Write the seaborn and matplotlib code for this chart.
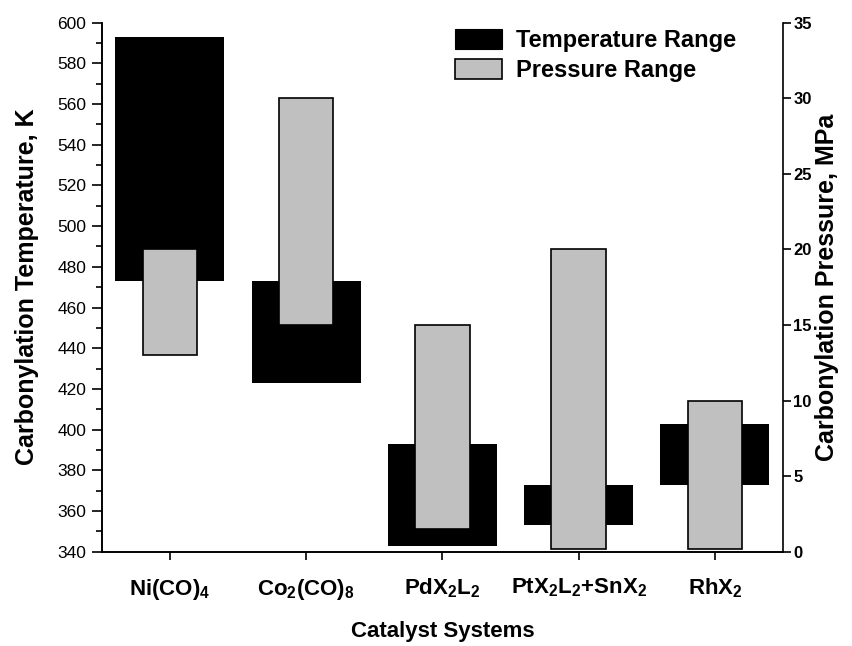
import matplotlib
matplotlib.use("Agg")
import matplotlib.pyplot as plt
from matplotlib.patches import Patch
from matplotlib.ticker import MultipleLocator
import numpy as np
import pandas as pd
import seaborn as sns

# Catalyst systems and their operating windows
catalysts = ["Ni(CO)$_4$", "Co$_2$(CO)$_8$", "PdX$_2$L$_2$",
             "PtX$_2$L$_2$+SnX$_2$", "RhX$_2$"]
temp_low = [473, 423, 343, 353, 373]      # K
temp_high = [593, 473, 393, 373, 403]     # K
pres_low = [13, 15, 1.5, 0.15, 0.15]      # MPa
pres_high = [20, 30, 15, 20, 10]          # MPa

sns.set_theme(style="ticks")
plt.rcParams["font.family"] = ["Liberation Sans", "DejaVu Sans"]
plt.rcParams["mathtext.fontset"] = "custom"
plt.rcParams["mathtext.rm"] = "Liberation Sans:bold"
plt.rcParams["mathtext.bf"] = "Liberation Sans:bold"
plt.rcParams["mathtext.default"] = "bf"
for key in ("text.color", "axes.labelcolor", "xtick.color", "ytick.color",
            "axes.edgecolor"):
    plt.rcParams[key] = "black"

df = pd.DataFrame({
    "catalyst": catalysts,
    "t_low": temp_low,
    "t_span": np.subtract(temp_high, temp_low),
    "p_low": pres_low,
    "p_span": np.subtract(pres_high, pres_low),
})

fig = plt.figure(figsize=(8.52, 6.46), dpi=100)
ax = fig.add_axes([0.1194, 0.146, 0.7996, 0.8189])

# Temperature windows (left axis)
sns.barplot(data=df, x="catalyst", y="t_span", bottom=df["t_low"].values,
            color="black", saturation=1, width=0.8, errorbar=None,
            linewidth=0, ax=ax)

# Pressure windows (right axis)
ax2 = ax.twinx()
sns.barplot(data=df, x="catalyst", y="p_span", bottom=df["p_low"].values,
            color="#C0C0C0", saturation=1, width=0.4, errorbar=None,
            edgecolor="black", linewidth=1.2, ax=ax2)

ax.set_xlim(-0.5, 4.5)
ax.set_ylim(340, 600)
ax.set_yticks(np.arange(340, 601, 20))
ax.yaxis.set_minor_locator(MultipleLocator(10))
ax2.set_ylim(0, 35)
ax2.set_yticks(np.arange(0, 36, 5))

for a in (ax, ax2):
    a.spines["top"].set_visible(False)
    for s in a.spines.values():
        s.set_linewidth(1.2)
        s.set_color("black")
ax.spines["right"].set_visible(False)

ax.tick_params(axis="y", which="major", direction="out", length=7, width=1.2,
               labelsize=12.5, pad=4, colors="black")
ax.tick_params(axis="y", which="minor", direction="out", length=4, width=1.2,
               colors="black")
ax.tick_params(axis="x", direction="out", length=6, width=1.2,
               labelsize=16, pad=12, colors="black")
ax2.tick_params(axis="y", direction="out", length=6, width=1.2,
                labelsize=12, pad=1.5, colors="black")
for lbl in ax.get_xticklabels() + ax2.get_yticklabels():
    lbl.set_fontweight("bold")

ax.set_xlabel("Catalyst Systems", fontsize=16, fontweight="bold", labelpad=14)
ax.set_ylabel("Carbonylation Temperature, K", fontsize=18, fontweight="bold",
              labelpad=13)
ax2.set_ylabel("Carbonylation Pressure, MPa", fontsize=18, fontweight="bold",
               labelpad=2)

handles = [
    Patch(facecolor="black", edgecolor="black", linewidth=0.8,
          label="Temperature Range"),
    Patch(facecolor="#C0C0C0", edgecolor="black", linewidth=1.2,
          label="Pressure Range"),
]
fig.legend(handles=handles, loc="upper left",
           bbox_to_anchor=(455 / 852, 1 - 29 / 646), frameon=False,
           prop={"weight": "bold", "size": 17}, handlelength=2.0,
           handleheight=0.9, handletextpad=0.6, labelspacing=0.3,
           borderpad=0, borderaxespad=0)

fig.savefig("out.png", dpi=100)
